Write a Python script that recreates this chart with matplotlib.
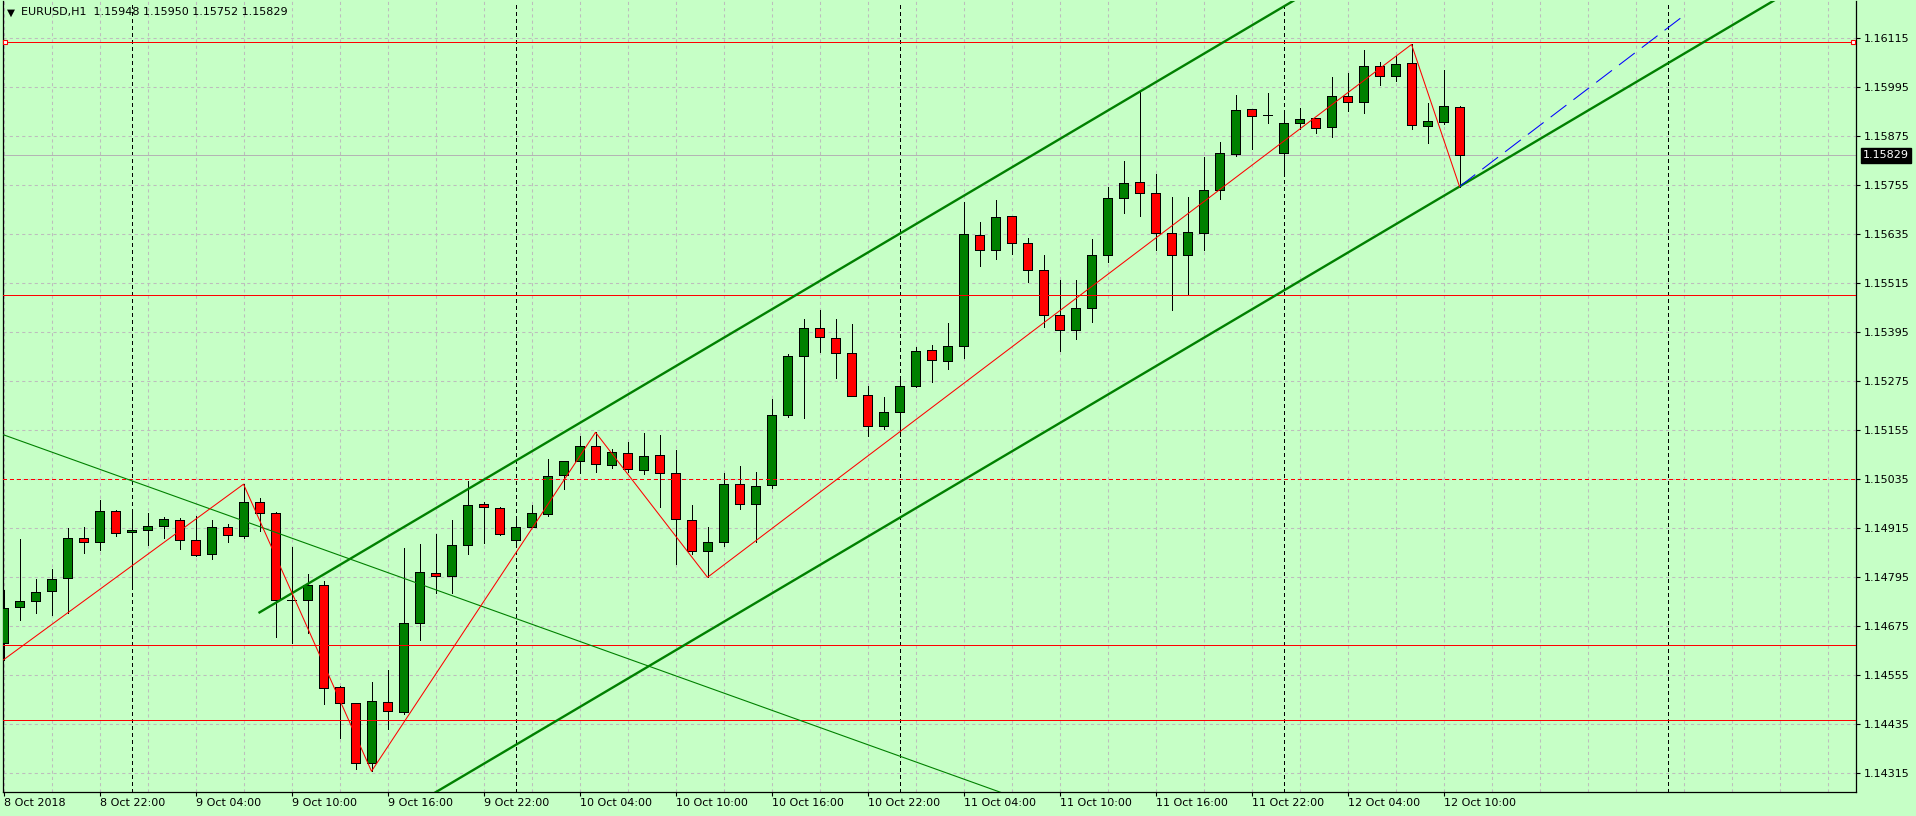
import numpy as np
import matplotlib.pyplot as plt

# EURUSD H1, 8 Oct 2018 16:00 .. 12 Oct 2018 11:00 (bar index 0..91)
opens = [1.14634, 1.14722, 1.14736, 1.14761, 1.14793, 1.14891, 1.14881, 1.14957, 1.14905, 1.14910,
         1.14920, 1.14935, 1.14886, 1.14851, 1.14918, 1.14896, 1.14979, 1.14952, 1.14739, 1.14739,
         1.14776, 1.14526, 1.14487, 1.14340, 1.14489, 1.14465, 1.14683, 1.14805, 1.14798, 1.14874,
         1.14974, 1.14964, 1.14886, 1.14918, 1.14950, 1.15045, 1.15079, 1.15116, 1.15070, 1.15099,
         1.15057, 1.15094, 1.15050, 1.14935, 1.14859, 1.14881, 1.15023, 1.14974, 1.15021, 1.15192,
         1.15336, 1.15405, 1.15381, 1.15344, 1.15241, 1.15165, 1.15199, 1.15263, 1.15351, 1.15324,
         1.15361, 1.15633, 1.15596, 1.15679, 1.15613, 1.15547, 1.15437, 1.15400, 1.15454, 1.15584,
         1.15723, 1.15763, 1.15736, 1.15638, 1.15584, 1.15638, 1.15743, 1.15831, 1.15941, 1.15926,
         1.15834, 1.15907, 1.15919, 1.15897, 1.15973, 1.15958, 1.16047, 1.16022, 1.16054, 1.15900,
         1.15910, 1.15948]
highs = [1.14764, 1.14889, 1.14791, 1.14815, 1.14915, 1.14918, 1.14984, 1.14959, 1.14954, 1.14953,
         1.14942, 1.14940, 1.14945, 1.14935, 1.14925, 1.15023, 1.14989, 1.14954, 1.14869, 1.14803,
         1.14785, 1.14528, 1.14488, 1.14538, 1.14567, 1.14866, 1.14876, 1.14901, 1.14935, 1.15030,
         1.14980, 1.14967, 1.14945, 1.14972, 1.15084, 1.15080, 1.15141, 1.15150, 1.15109, 1.15126,
         1.15148, 1.15143, 1.15106, 1.14972, 1.14918, 1.15050, 1.15067, 1.15052, 1.15232, 1.15342,
         1.15428, 1.15450, 1.15428, 1.15416, 1.15263, 1.15236, 1.15283, 1.15360, 1.15363, 1.15417,
         1.15715, 1.15665, 1.15719, 1.15680, 1.15625, 1.15584, 1.15523, 1.15523, 1.15623, 1.15750,
         1.15815, 1.15984, 1.15782, 1.15726, 1.15726, 1.15824, 1.15861, 1.15976, 1.15942, 1.15981,
         1.15939, 1.15944, 1.15920, 1.16020, 1.16030, 1.16086, 1.16056, 1.16071, 1.16100, 1.15956,
         1.16037, 1.15950]
lows = [1.14593, 1.14691, 1.14707, 1.14703, 1.14707, 1.14854, 1.14862, 1.14897, 1.14772, 1.14873,
        1.14892, 1.14864, 1.14847, 1.14841, 1.14881, 1.14891, 1.14908, 1.14648, 1.14634, 1.14658,
        1.14484, 1.14401, 1.14325, 1.14320, 1.14423, 1.14460, 1.14641, 1.14756, 1.14756, 1.14851,
        1.14879, 1.14899, 1.14876, 1.14917, 1.14945, 1.15011, 1.15050, 1.15052, 1.15062, 1.15052,
        1.15047, 1.14967, 1.14827, 1.14851, 1.14795, 1.14871, 1.14962, 1.14881, 1.15013, 1.15187,
        1.15185, 1.15348, 1.15284, 1.15238, 1.15141, 1.15158, 1.15140, 1.15262, 1.15274, 1.15304,
        1.15331, 1.15558, 1.15575, 1.15588, 1.15518, 1.15407, 1.15349, 1.15378, 1.15420, 1.15567,
        1.15688, 1.15681, 1.15596, 1.15449, 1.15488, 1.15596, 1.15721, 1.15828, 1.15845, 1.15907,
        1.15785, 1.15893, 1.15883, 1.15873, 1.15936, 1.15931, 1.16000, 1.16011, 1.15892, 1.15858,
        1.15905, 1.15752]
closes = [1.14719, 1.14736, 1.14758, 1.14790, 1.14891, 1.14881, 1.14957, 1.14903, 1.14910, 1.14920,
          1.14937, 1.14886, 1.14849, 1.14918, 1.14898, 1.14979, 1.14952, 1.14739, 1.14739, 1.14776,
          1.14523, 1.14487, 1.14340, 1.14492, 1.14467, 1.14683, 1.14807, 1.14798, 1.14874, 1.14972,
          1.14967, 1.14900, 1.14918, 1.14952, 1.15043, 1.15079, 1.15116, 1.15072, 1.15101, 1.15060,
          1.15092, 1.15050, 1.14937, 1.14859, 1.14881, 1.15023, 1.14974, 1.15018, 1.15192, 1.15336,
          1.15405, 1.15383, 1.15344, 1.15240, 1.15165, 1.15199, 1.15263, 1.15349, 1.15327, 1.15361,
          1.15635, 1.15596, 1.15677, 1.15613, 1.15547, 1.15437, 1.15400, 1.15454, 1.15584, 1.15723,
          1.15760, 1.15736, 1.15638, 1.15584, 1.15640, 1.15743, 1.15834, 1.15939, 1.15924, 1.15926,
          1.15907, 1.15917, 1.15895, 1.15973, 1.15958, 1.16047, 1.16022, 1.16051, 1.15902, 1.15912,
          1.15949, 1.15829]

# time axis labels every 6 bars
time_tick_bars = [0, 6, 12, 18, 24, 30, 36, 42, 48, 54, 60, 66, 72, 78, 84, 90]
time_tick_labels = ["8 Oct 2018", "8 Oct 22:00", "9 Oct 04:00", "9 Oct 10:00", "9 Oct 16:00",
                    "9 Oct 22:00", "10 Oct 04:00", "10 Oct 10:00", "10 Oct 16:00", "10 Oct 22:00",
                    "11 Oct 04:00", "11 Oct 10:00", "11 Oct 16:00", "11 Oct 22:00", "12 Oct 04:00",
                    "12 Oct 10:00"]
day_start_bars = [8, 32, 56, 80, 104]
price_ticks = [1.14315, 1.14435, 1.14555, 1.14675, 1.14795, 1.14915, 1.15035, 1.15155,
               1.15275, 1.15395, 1.15515, 1.15635, 1.15755, 1.15875, 1.15995, 1.16115]

# objects on the chart
zigzag_bars = [0, 15, 23, 37, 44, 88, 91]
zigzag_kind = ['L', 'H', 'L', 'H', 'L', 'H', 'L']
red_levels_solid = [1.16107, 1.15486, 1.14628, 1.14445]
red_levels_dashed = [1.15035]
trend_bars = [0, 60]
trend_prices = [1.15144, 1.14301]
channel_bars = [16, 71]
channel_prices = [1.14709, 1.15984]
channel_third = (91, 1.15752)
blue_bars = [91, 105]
blue_prices = [1.15752, 1.16170]
last_price = closes[-1]

bg = '#C6FFC6'
bull = '#008000'
bear = '#FF0000'
px = 0.68  # about one device pixel, in points

W, H = 1916, 816
fig = plt.figure(figsize=(W / 100, H / 100), dpi=100, facecolor=bg)
ax = fig.add_axes([2.5 / W, 24 / H, 1853.5 / W, 791 / H])
ax.set_facecolor(bg)
ax.set_xlim(-0.0625, 115.78)
ax.set_ylim(1.142692, 1.162064)

o = np.array(opens)
c = np.array(closes)
hi = np.array(highs)
lo = np.array(lows)
x = np.arange(len(o))

# grid
ax.set_xticks(time_tick_bars)
ax.set_xticks(range(0, 116, 3), minor=True)
ax.set_yticks(price_ticks)
ax.grid(True, which='both', axis='x', color='#BDBDBD', lw=0.75, ls=(0, (3, 3)), zorder=0)
ax.grid(True, which='major', axis='y', color='#BDBDBD', lw=0.75, ls=(0, (3, 3)), zorder=0)
ax.set_axisbelow(True)

for b in day_start_bars:
    ax.axvline(b, color='black', lw=px, ls=(0, (4, 4)), zorder=1, antialiased=False)

# candles
ax.vlines(x, lo, hi, color='black', lw=px, zorder=3, antialiased=False)
cols = [bull if cc > oo else bear for oo, cc in zip(o, c)]
body = np.abs(c - o)
ax.bar(x, body, bottom=np.minimum(o, c), width=0.6, color=cols,
       edgecolor='black', linewidth=px, zorder=4, antialiased=False)
doji = body == 0
ax.hlines(o[doji], x[doji] - 0.3, x[doji] + 0.3, color='black', lw=px, zorder=4,
          antialiased=False)

# horizontal levels
for p in red_levels_solid:
    ax.axhline(p, color='red', lw=px, zorder=5, antialiased=False)
for p in red_levels_dashed:
    ax.axhline(p, color='red', lw=px, ls=(0, (4, 4)), zorder=5, antialiased=False)
yt = ax.get_yaxis_transform()
ax.plot([0.0015, 0.9985], [red_levels_solid[0]] * 2, 's', ms=3.2, mfc='white',
        mec='red', mew=0.8, transform=yt, zorder=6, clip_on=False)
ax.axhline(last_price, color='#B4B4B4', lw=px, zorder=2, antialiased=False)

# descending thin trend line
k = (trend_prices[1] - trend_prices[0]) / (trend_bars[1] - trend_bars[0])
tx = np.array([-5, 75])
ax.plot(tx, trend_prices[0] + k * (tx - trend_bars[0]), color=bull, lw=0.8, zorder=5)

# equidistant channel
s = (channel_prices[1] - channel_prices[0]) / (channel_bars[1] - channel_bars[0])
cx = np.array([channel_bars[0], 130])
ax.plot(cx, channel_prices[0] + s * (cx - channel_bars[0]), color=bull, lw=1.7, zorder=5)
ax.plot(cx, channel_third[1] + s * (cx - channel_third[0]), color=bull, lw=1.7, zorder=5)

# blue dashed line
ax.plot(blue_bars, blue_prices, color='blue', lw=0.75, ls=(0, (19, 8.5)), zorder=5)

# zigzag
zz = [hi[b] if kd == 'H' else lo[b] for b, kd in zip(zigzag_bars, zigzag_kind)]
ax.plot(zigzag_bars, zz, color='red', lw=0.75, zorder=6)

# axes styling
for side in ['left', 'right', 'bottom']:
    ax.spines[side].set_color('black')
    ax.spines[side].set_linewidth(0.9)
ax.spines['top'].set_visible(False)
ax.yaxis.tick_right()
ax.set_yticklabels([f"{p:.5f}" for p in price_ticks])
ax.set_xticklabels(time_tick_labels)
ax.tick_params(axis='y', which='major', length=3, width=0.8, pad=2.5, labelsize=8, colors='black')
ax.tick_params(axis='x', which='major', length=3, width=0.8, pad=1.5, labelsize=8, colors='black')
ax.tick_params(axis='x', which='minor', length=0)
for t in ax.get_xticklabels():
    t.set_ha('left')

ax.annotate(f"{last_price:.5f}", xy=(1, last_price), xycoords=yt,
            xytext=(5, 0), textcoords='offset points', ha='left', va='center',
            fontsize=8, color='white', annotation_clip=False,
            bbox=dict(boxstyle='square,pad=0.22', fc='black', ec='black'))

# header
fig.text(7 / W, 1 - 12.5 / H, '\u25BC', fontsize=7.5, va='center', ha='left')
head = f"EURUSD,H1  {opens[-1]:.5f} {highs[-1]:.5f} {lows[-1]:.5f} {closes[-1]:.5f}"
fig.text(21 / W, 1 - 12.5 / H, head, fontsize=8, va='center', ha='left')

fig.savefig('out.png', dpi=100, facecolor=bg)
